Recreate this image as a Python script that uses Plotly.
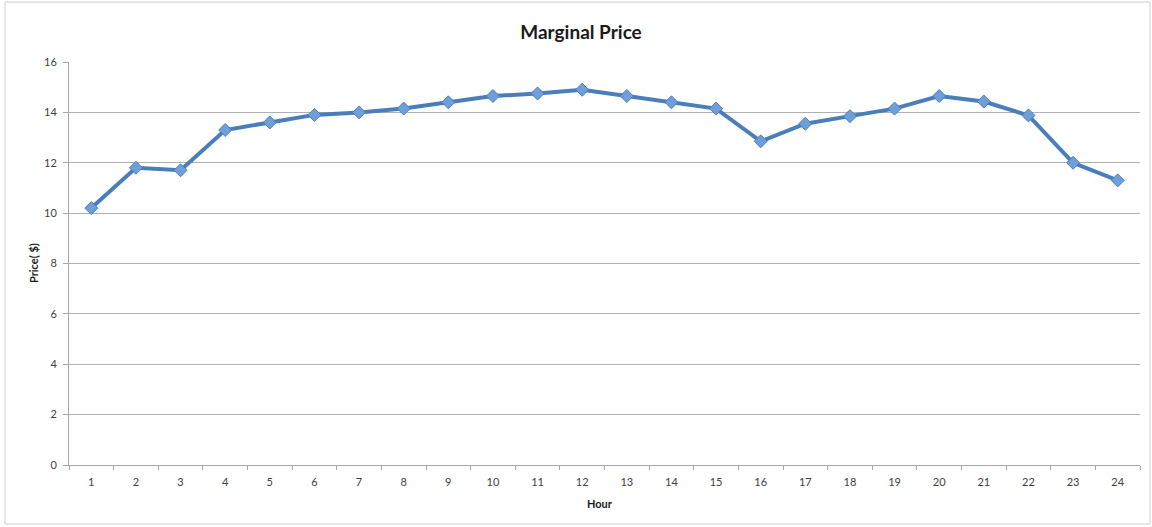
import plotly.graph_objects as go

hours = [str(h) for h in range(1, 25)]
prices = [10.2, 11.8, 11.7, 13.3, 13.6, 13.9, 14.0, 14.15, 14.4, 14.65, 14.75, 14.9,
          14.65, 14.4, 14.15, 12.85, 13.55, 13.85, 14.15, 14.65, 14.43, 13.88, 12.0, 11.3]
y_ticks = [0, 2, 4, 6, 8, 10, 12, 14, 16]

W, H = 1152, 527
L, R, T, B = 69, 12, 62, 62
pw, ph = W - L - R, H - T - B

def px(x):
    return (x - L) / pw

def py(y):
    return (H - B - y) / ph

FONT = "Lato"

fig = go.Figure()
fig.add_trace(go.Scatter(
    x=hours, y=prices, mode="lines+markers",
    line=dict(color="#4a7ebb", width=4),
    marker=dict(symbol="diamond", size=10, color="#6f9fd8",
                line=dict(color="#4a7ebb", width=1)),
    showlegend=False,
))

fig.update_layout(
    width=W, height=H,
    margin=dict(l=L, r=R, t=T, b=B),
    paper_bgcolor="white", plot_bgcolor="white",
    title=dict(text="<b>Marginal Price</b>", x=581 / W, xanchor="center",
               y=1 - 32 / H, yanchor="middle",
               font=dict(family=FONT, size=19, color="#1a1a1a")),
    font=dict(family=FONT),
    xaxis=dict(type="category", tickson="boundaries", ticks="outside", ticklen=4,
               tickcolor="#a6a6a6", showline=True, linecolor="#a6a6a6", linewidth=1,
               showgrid=False, tickfont=dict(family=FONT, size=11, color="#404040"),
               ticklabelstandoff=7, range=[-0.5, 23.5]),
    yaxis=dict(range=[0, 16], tickvals=y_ticks, ticks="outside", ticklen=5,
               tickcolor="#a6a6a6", showline=True, linecolor="#a6a6a6", linewidth=1,
               showgrid=True, gridcolor="#b0b0b0", gridwidth=1, zeroline=False,
               ticklabelstandoff=4,
               tickfont=dict(family=FONT, size=11, color="#404040")),
    shapes=[dict(type="rect", xref="paper", yref="paper",
                 x0=px(5), x1=px(1150), y0=py(524), y1=py(2),
                 line=dict(color="#d0d0d0", width=1), fillcolor="rgba(0,0,0,0)",
                 layer="below")],
    annotations=[
        dict(text="<b>Hour</b>", xref="paper", yref="paper", x=px(600), y=py(503),
             xanchor="center", yanchor="middle",
             showarrow=False, font=dict(family=FONT, size=11, color="#1a1a1a")),
        dict(text="<b>Price( $)</b>", xref="paper", yref="paper", x=px(33), y=py(263),
             xanchor="center", yanchor="middle",
             showarrow=False, textangle=-90,
             font=dict(family=FONT, size=11, color="#1a1a1a")),
    ],
)

fig.write_html("out.html")
